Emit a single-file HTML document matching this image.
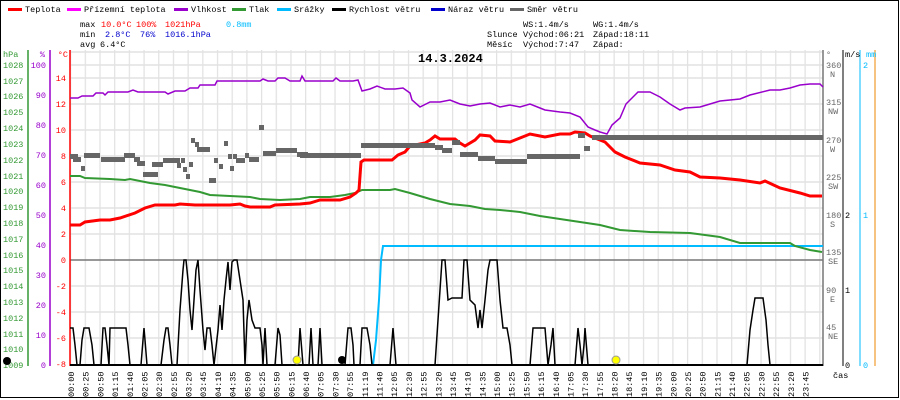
<!DOCTYPE html>
<html><head><meta charset="utf-8"><style>
html,body{margin:0;padding:0;background:#fff;}
svg{display:block;font-family:"Liberation Mono",monospace;}
</style></head><body>
<svg width="900" height="400" viewBox="0 0 900 400" xmlns="http://www.w3.org/2000/svg">
<defs>
<pattern id="vg" x="70" y="0" width="14.69" height="400" patternUnits="userSpaceOnUse">
<line x1="0.5" y1="0" x2="0.5" y2="400" stroke="#e2e2e2" stroke-width="1.5"/>
</pattern>
</defs>
<rect x="0" y="0" width="900" height="400" fill="#fff"/>
<rect x="0.5" y="0.5" width="898" height="397" fill="none" stroke="#000"/>
<!-- grid -->
<rect x="70" y="50" width="753" height="315" fill="url(#vg)"/>
<g stroke="#e2e2e2" stroke-width="1.5">
<line x1="70" x2="823" y1="52" y2="52"/><line x1="70" x2="823" y1="65" y2="65"/>
<line x1="70" x2="823" y1="78" y2="78"/><line x1="70" x2="823" y1="104" y2="104"/>
<line x1="70" x2="823" y1="130" y2="130"/><line x1="70" x2="823" y1="156" y2="156"/>
<line x1="70" x2="823" y1="182" y2="182"/><line x1="70" x2="823" y1="208" y2="208"/>
<line x1="70" x2="823" y1="234" y2="234"/><line x1="70" x2="823" y1="286" y2="286"/>
<line x1="70" x2="823" y1="312" y2="312"/><line x1="70" x2="823" y1="338" y2="338"/>
</g>
<line x1="70" x2="823" y1="260" y2="260" stroke="#777" stroke-width="1.5"/>

<!-- legend -->
<g font-size="8.5" fill="#000">
<rect x="8" y="8" width="14" height="3" fill="#f00"/><text x="25" y="12">Teplota</text>
<rect x="67" y="8" width="14" height="3" fill="#f0f"/><text x="84" y="12">Přízemní teplota</text>
<rect x="174" y="8" width="14" height="3" fill="#90c"/><text x="191" y="12">Vlhkost</text>
<rect x="232" y="8" width="14" height="3" fill="#393"/><text x="249" y="12">Tlak</text>
<rect x="277" y="8" width="14" height="3" fill="#0bf"/><text x="294" y="12">Srážky</text>
<rect x="332" y="8" width="14" height="3" fill="#000"/><text x="349" y="12">Rychlost větru</text>
<rect x="431" y="8" width="14" height="3" fill="#00c"/><text x="448" y="12">Náraz větru</text>
<rect x="510" y="8" width="14" height="3" fill="#666"/><text x="527" y="12">Směr větru</text>
<text x="80" y="27">max</text><text x="101" y="27" fill="#f00">10.0°C</text><text x="136" y="27" fill="#f00">100%</text><text x="165" y="27" fill="#f00">1021hPa</text><text x="226" y="27" fill="#0bf">0.8mm</text>
<text x="80" y="37">min</text><text x="105" y="37" fill="#00c">2.8°C</text><text x="140" y="37" fill="#00c">76%</text><text x="165" y="37" fill="#00c">1016.1hPa</text>
<text x="80" y="47">avg</text><text x="100" y="47">6.4°C</text>
<text x="523" y="27">WS:1.4m/s</text><text x="593" y="27">WG:1.4m/s</text>
<text x="487" y="37">Slunce</text><text x="523" y="37">Východ:06:21</text><text x="593" y="37">Západ:18:11</text>
<text x="487" y="47">Měsíc</text><text x="523" y="47">Východ:7:47</text><text x="593" y="47">Západ:</text>
</g>
<text x="418" y="62" font-size="12" font-weight="bold">14.3.2024</text>

<!-- left axes -->
<line x1="28" y1="50" x2="28" y2="366" stroke="#393" stroke-width="1.5"/>
<line x1="50" y1="50" x2="50" y2="366" stroke="#90c" stroke-width="1.5"/>
<line x1="70" y1="50" x2="70" y2="366" stroke="#f00" stroke-width="1.5"/>
<g font-size="8.5" fill="#393">
<text x="3" y="57">hPa</text>
<text x="3" y="68">1028</text><text x="3" y="84">1027</text><text x="3" y="99">1026</text><text x="3" y="115">1025</text>
<text x="3" y="131">1024</text><text x="3" y="147">1023</text><text x="3" y="163">1022</text><text x="3" y="179">1021</text>
<text x="3" y="194">1020</text><text x="3" y="210">1019</text><text x="3" y="226">1018</text><text x="3" y="242">1017</text>
<text x="3" y="258">1016</text><text x="3" y="273">1015</text><text x="3" y="289">1014</text><text x="3" y="305">1013</text>
<text x="3" y="321">1012</text><text x="3" y="337">1011</text><text x="3" y="352">1010</text><text x="3" y="368">1009</text>
</g>
<g font-size="8.5" fill="#90c" text-anchor="end">
<text x="45" y="57">%</text>
<text x="46" y="68">100</text><text x="46" y="98">90</text><text x="46" y="128">80</text><text x="46" y="158">70</text>
<text x="46" y="188">60</text><text x="46" y="218">50</text><text x="46" y="248">40</text><text x="46" y="278">30</text>
<text x="46" y="308">20</text><text x="46" y="338">10</text><text x="46" y="368">0</text>
</g>
<g font-size="8.5" fill="#f00" text-anchor="end">
<text x="68" y="57">°C</text>
<text x="66" y="81">14</text><text x="66" y="107">12</text><text x="66" y="133">10</text><text x="66" y="159">8</text>
<text x="66" y="185">6</text><text x="66" y="211">4</text><text x="66" y="237">2</text><text x="66" y="263">0</text>
<text x="66" y="289">-2</text><text x="66" y="315">-4</text><text x="66" y="341">-6</text><text x="66" y="367">-8</text>
</g>

<!-- right axes -->
<line x1="823" y1="50" x2="823" y2="366" stroke="#777" stroke-width="1.5"/>
<line x1="843" y1="50" x2="843" y2="366" stroke="#000" stroke-width="1"/>
<line x1="860" y1="50" x2="860" y2="366" stroke="#0bf" stroke-width="1"/>
<line x1="875" y1="50" x2="875" y2="366" stroke="#e80" stroke-width="1"/>
<g font-size="8.5" fill="#666">
<text x="826" y="57">°</text>
<text x="826" y="68">360</text><text x="830" y="77">N</text>
<text x="826" y="105">315</text><text x="828" y="114">NW</text>
<text x="826" y="143">270</text><text x="830" y="152">W</text>
<text x="826" y="180">225</text><text x="828" y="189">SW</text>
<text x="826" y="218">180</text><text x="830" y="227">S</text>
<text x="826" y="255">135</text><text x="828" y="264">SE</text>
<text x="826" y="293">90</text><text x="830" y="302">E</text>
<text x="826" y="330">45</text><text x="828" y="339">NE</text>
</g>
<g font-size="8.5">
<text x="845" y="57">m/s</text><text x="866" y="57" fill="#0bf">mm</text>
<text x="845" y="218">2</text><text x="845" y="293">1</text><text x="845" y="368">0</text>
<text x="863" y="68" fill="#0bf">2</text><text x="863" y="218" fill="#0bf">1</text><text x="863" y="368" fill="#0bf">0</text>
<text x="833" y="378">čas</text>
</g>

<!-- precipitation -->
<polyline fill="none" stroke="#0bf" stroke-width="2" points="70,365 373,365 376,340 379,300 381,260 383,246 823,246"/>

<!-- pressure -->
<polyline fill="none" stroke="#393" stroke-width="2" points="70,176 80,176 85,178 110,179 125,180 130,179 150,183 165,185 175,187 190,190 200,192 210,195 230,196 250,197 260,199 280,200 300,199 310,197 330,197 345,195 355,193 362,190 390,190 395,189 410,193 430,199 450,204 470,206 485,209 500,210 520,212 540,216 560,219 580,222 600,225 620,230 650,232 690,233 720,237 740,243 770,243 790,243 795,246 810,250 822,252"/>

<!-- humidity -->
<polyline fill="none" stroke="#90c" stroke-width="1.5" points="70,98 78,98 82,96 93,96 96,93 103,93 105,95 108,92 128,92 133,90 138,92 165,92 168,94 175,91 185,91 190,88 198,88 200,85 215,85 217,81 260,81 263,79 268,81 275,81 278,78 285,78 290,81 300,81 302,76 305,81 333,81 336,78 340,81 353,81 358,80 362,91 370,89 377,86 385,89 395,89 403,88 410,93 412,100 420,107 430,102 440,102 450,100 460,104 470,106 480,104 490,103 500,107 510,105 520,107 530,104 540,108 545,110 560,112 570,113 580,117 588,127 595,130 600,132 607,134 612,125 620,118 626,104 638,92 650,92 660,97 670,104 680,110 685,108 700,107 710,104 720,101 740,99 750,95 770,90 780,90 790,88 800,85 810,84 820,84 823,87"/>

<!-- temperature -->
<polyline fill="none" stroke="#f00" stroke-width="3" points="70,225 80,225 85,222 100,220 110,220 120,218 135,213 145,208 155,205 175,205 180,204 195,205 230,205 240,204 245,206 250,207 270,207 275,205 300,204 310,203 320,200 340,200 350,197 356,193 359,190 361,162 364,160 392,160 398,155 405,152 410,146 425,143 430,140 435,136 440,139 455,139 460,143 465,146 475,140 480,135 490,136 495,141 510,142 520,138 530,134 540,136 545,137 560,134 570,134 575,132 585,133 590,136 605,142 615,152 625,157 640,163 660,165 675,170 690,172 700,177 720,178 740,180 760,183 765,181 780,188 800,193 810,196 822,196"/>

<!-- wind direction -->
<g fill="#666">
<rect x="70" y="154" width="8" height="5"/><rect x="73" y="157" width="8" height="5"/><rect x="81" y="166" width="4" height="5"/>
<rect x="84" y="153" width="16" height="5"/><rect x="101" y="157" width="24" height="5"/><rect x="124" y="153" width="11" height="5"/>
<rect x="134" y="157" width="6" height="5"/><rect x="137" y="161" width="8" height="5"/><rect x="143" y="172" width="15" height="5"/>
<rect x="152" y="162" width="11" height="5"/><rect x="163" y="158" width="17" height="5"/><rect x="177" y="163" width="4" height="5"/>
<rect x="181" y="158" width="4" height="5"/><rect x="183" y="167" width="4" height="5"/><rect x="186" y="174" width="4" height="5"/>
<rect x="189" y="162" width="4" height="5"/><rect x="191" y="138" width="4" height="5"/><rect x="195" y="142" width="4" height="5"/>
<rect x="197" y="147" width="13" height="5"/><rect x="209" y="178" width="7" height="5"/><rect x="214" y="158" width="4" height="5"/>
<rect x="219" y="164" width="4" height="5"/><rect x="224" y="141" width="4" height="5"/><rect x="228" y="154" width="4" height="5"/>
<rect x="230" y="166" width="4" height="5"/><rect x="233" y="154" width="4" height="5"/><rect x="236" y="158" width="9" height="5"/>
<rect x="245" y="153" width="4" height="5"/><rect x="249" y="157" width="10" height="5"/><rect x="259" y="125" width="5" height="5"/>
<rect x="263" y="151" width="13" height="5"/><rect x="276" y="148" width="21" height="5"/><rect x="297" y="152" width="11" height="5"/>
<rect x="300" y="153" width="61" height="5"/><rect x="361" y="143" width="74" height="5"/><rect x="435" y="145" width="8" height="5"/>
<rect x="442" y="148" width="10" height="5"/><rect x="452" y="140" width="8" height="5"/><rect x="460" y="152" width="18" height="5"/>
<rect x="478" y="156" width="17" height="5"/><rect x="495" y="159" width="32" height="5"/><rect x="527" y="154" width="53" height="5"/>
<rect x="578" y="133" width="7" height="5"/><rect x="584" y="146" width="6" height="5"/><rect x="592" y="135" width="231" height="5"/>
</g>

<!-- wind speed -->
<polyline fill="none" stroke="#000" stroke-width="1.5" points="70,328 73,328 75,345 77,365 80,365 82,340 84,328 89,328 92,345 94,365 101,365 103,328 105,328 107,345 109,365 110,328 126,328 128,345 130,365 141,365 143,340 144,328 145,340 147,365 161,365 164,340 166,328 168,328 170,345 172,365 177,365 180,310 183,270 184,260 186,260 188,280 190,310 192,330 194,300 196,270 198,260 200,290 203,330 205,350 207,328 210,328 212,345 214,365 218,330 220,305 222,330 224,300 226,280 228,262 230,290 232,262 234,260 237,260 240,280 243,300 245,365 247,320 249,300 252,320 255,328 260,328 262,345 263,365 265,328 267,365 275,365 278,328 280,335 282,365 298,365 300,328 303,365 309,365 311,328 313,365 318,365 320,328 322,365 345,365 347,340 348,328 351,328 353,345 354,365 360,365 362,328 367,328 370,345 372,365 390,365 393,328 396,365 435,365 438,320 440,290 442,260 445,260 448,300 452,298 462,298 464,260 467,260 470,300 475,305 478,328 480,310 482,328 485,300 488,270 490,260 497,260 500,300 503,328 507,328 510,345 512,365 530,365 533,328 545,328 548,365 551,345 553,328 555,365 575,365 578,328 580,345 582,365 584,345 585,328 588,365 747,365 750,330 753,310 755,298 763,298 766,320 768,345 770,365 823,365"/>
<line x1="70" x2="823" y1="365" y2="365" stroke="#000" stroke-width="2"/>

<!-- markers -->
<circle cx="7" cy="361" r="4" fill="#000"/>
<circle cx="342" cy="360" r="4" fill="#000"/>
<circle cx="297" cy="360" r="4" fill="#ff0" stroke="#999" stroke-width="1"/>
<circle cx="616" cy="360" r="4" fill="#ff0" stroke="#999" stroke-width="1"/>

<!-- time labels -->
<g font-size="8.5" fill="#000">
<text transform="translate(74,397) rotate(-90)">00:00</text>
<text transform="translate(88.7,397) rotate(-90)">00:25</text>
<text transform="translate(103.4,397) rotate(-90)">00:50</text>
<text transform="translate(118.1,397) rotate(-90)">01:15</text>
<text transform="translate(132.8,397) rotate(-90)">01:40</text>
<text transform="translate(147.5,397) rotate(-90)">02:05</text>
<text transform="translate(162.1,397) rotate(-90)">02:30</text>
<text transform="translate(176.8,397) rotate(-90)">02:55</text>
<text transform="translate(191.5,397) rotate(-90)">03:20</text>
<text transform="translate(206.2,397) rotate(-90)">03:45</text>
<text transform="translate(220.9,397) rotate(-90)">04:10</text>
<text transform="translate(235.6,397) rotate(-90)">04:35</text>
<text transform="translate(250.3,397) rotate(-90)">05:00</text>
<text transform="translate(265,397) rotate(-90)">05:25</text>
<text transform="translate(279.7,397) rotate(-90)">05:50</text>
<text transform="translate(294.4,397) rotate(-90)">06:15</text>
<text transform="translate(309,397) rotate(-90)">06:40</text>
<text transform="translate(323.7,397) rotate(-90)">07:05</text>
<text transform="translate(338.4,397) rotate(-90)">07:30</text>
<text transform="translate(353.1,397) rotate(-90)">07:55</text>
<text transform="translate(367.8,397) rotate(-90)">11:19</text>
<text transform="translate(382.5,397) rotate(-90)">11:40</text>
<text transform="translate(397.2,397) rotate(-90)">12:05</text>
<text transform="translate(411.9,397) rotate(-90)">12:30</text>
<text transform="translate(426.6,397) rotate(-90)">12:55</text>
<text transform="translate(441.3,397) rotate(-90)">13:20</text>
<text transform="translate(455.9,397) rotate(-90)">13:45</text>
<text transform="translate(470.6,397) rotate(-90)">14:10</text>
<text transform="translate(485.3,397) rotate(-90)">14:35</text>
<text transform="translate(500,397) rotate(-90)">15:00</text>
<text transform="translate(514.7,397) rotate(-90)">15:25</text>
<text transform="translate(529.4,397) rotate(-90)">15:50</text>
<text transform="translate(544.1,397) rotate(-90)">16:15</text>
<text transform="translate(558.8,397) rotate(-90)">16:40</text>
<text transform="translate(573.5,397) rotate(-90)">17:05</text>
<text transform="translate(588.2,397) rotate(-90)">17:30</text>
<text transform="translate(602.8,397) rotate(-90)">17:55</text>
<text transform="translate(617.5,397) rotate(-90)">18:20</text>
<text transform="translate(632.2,397) rotate(-90)">18:45</text>
<text transform="translate(646.9,397) rotate(-90)">19:10</text>
<text transform="translate(661.6,397) rotate(-90)">19:35</text>
<text transform="translate(676.3,397) rotate(-90)">20:00</text>
<text transform="translate(691,397) rotate(-90)">20:25</text>
<text transform="translate(705.7,397) rotate(-90)">20:50</text>
<text transform="translate(720.4,397) rotate(-90)">21:15</text>
<text transform="translate(735.1,397) rotate(-90)">21:40</text>
<text transform="translate(749.7,397) rotate(-90)">22:05</text>
<text transform="translate(764.4,397) rotate(-90)">22:30</text>
<text transform="translate(779.1,397) rotate(-90)">22:55</text>
<text transform="translate(793.8,397) rotate(-90)">23:20</text>
<text transform="translate(808.5,397) rotate(-90)">23:45</text>
</g>
</svg>
</body></html>
